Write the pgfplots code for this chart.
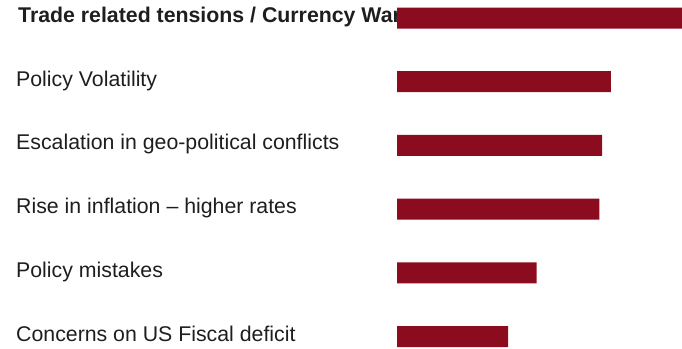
\documentclass[border=0pt]{standalone}
\usepackage{pgfplots}
\pgfplotsset{compat=1.18}
\usepackage{fontspec}
\setmainfont{Liberation Sans}
\definecolor{barred}{RGB}{138,12,30}
\definecolor{txt}{RGB}{30,30,30}
\begin{document}
\begin{tikzpicture}
\begin{axis}[
  set layers,
  at={(397bp,0)}, anchor=south west,
  scale only axis, width=285bp, height=349bp,
  xmin=0, xmax=100,
  ymin=-0.2826, ymax=5.196, y dir=reverse,
  xbar, bar width=21bp, bar shift=0pt,
  axis line style={draw=none},
  major tick length=0pt,
  xtick=\empty,
  ytick={0,1,2,3,4,5},
  yticklabels={\hspace*{2bp}\textbf{Trade related tensions / Currency War},Policy Volatility,Escalation in geo-political conflicts,Rise in inflation – higher rates,Policy mistakes,Concerns on US Fiscal deficit},
  yticklabel style={anchor=base west, inner sep=0pt, xshift=-381bp, yshift=-4.5bp, font=\fontsize{21.3bp}{25bp}\selectfont, text=txt},
  clip=false,
]
\addplot[fill=barred, draw=none] coordinates {(100,0) (75,1) (72,2) (71,3) (49,4) (39,5)};
\end{axis}
\pgfresetboundingbox
\path[use as bounding box] (0,0) rectangle (682bp,349bp);
\end{tikzpicture}
\end{document}
